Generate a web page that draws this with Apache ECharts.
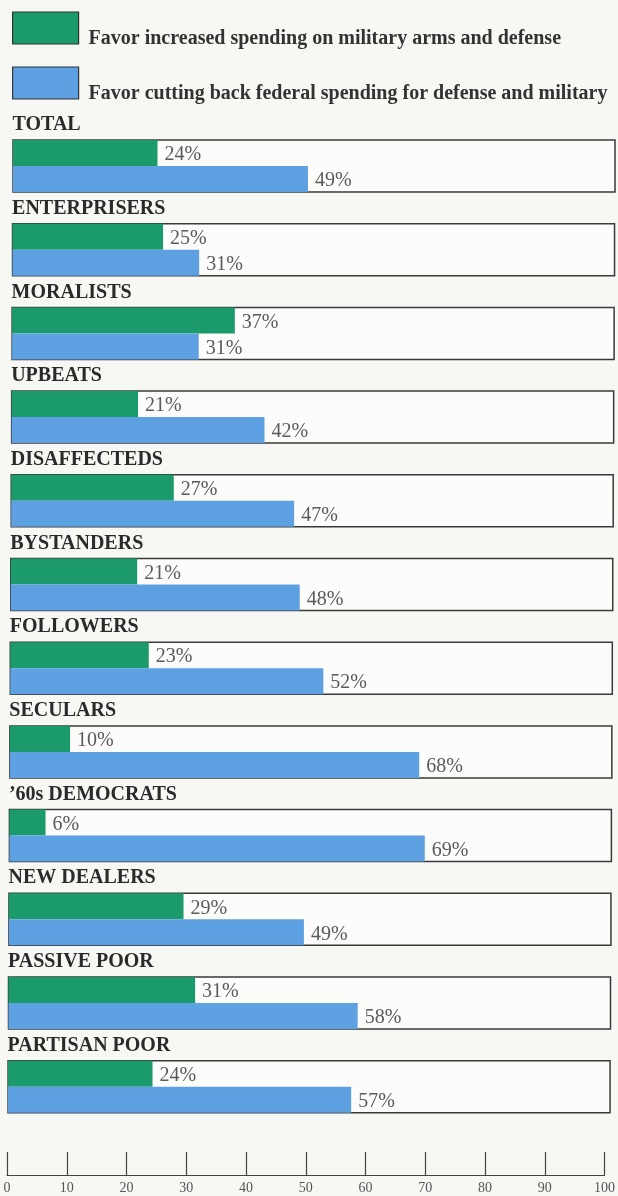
<!DOCTYPE html>
<html>
<head>
<meta charset="utf-8">
<script src="https://cdn.jsdelivr.net/npm/echarts@6/dist/echarts.min.js"></script>
<style>
  html, body { margin: 0; padding: 0; background: #f7f7f4; }
  #chart { width: 618px; height: 1196px; }
</style>
</head>
<body>
<div id="chart"></div>
<script>
// Survey groups, top to bottom
const groups = [
  'TOTAL', 'ENTERPRISERS', 'MORALISTS', 'UPBEATS', 'DISAFFECTEDS', 'BYSTANDERS',
  'FOLLOWERS', 'SECULARS', '\u201960s DEMOCRATS', 'NEW DEALERS', 'PASSIVE POOR', 'PARTISAN POOR'
];
// Percent favoring increased military spending
const increase = [24, 25, 37, 21, 27, 21, 23, 10, 6, 29, 31, 24];
// Percent favoring cutting back defense spending
const cutBack = [49, 31, 31, 42, 47, 48, 52, 68, 69, 49, 58, 57];
// Scale ticks
const scaleTicks = [0, 10, 20, 30, 40, 50, 60, 70, 80, 90, 100];

const nameIncrease = 'Favor increased spending on military arms and defense';
const nameCut = 'Favor cutting back federal spending for defense and military';
const GREEN = '#1b9a6c';
const BLUE = '#5ea1e2';
const SERIF = '"Liberation Serif", "DejaVu Serif", serif';

const chart = echarts.init(document.getElementById('chart'), null, { renderer: 'canvas' });

const firstTop = 140, step = 83.7, boxH = 52, boxW = 602;
const grids = [], xAxes = [], yAxes = [], series = [], titles = [];

groups.forEach((g, i) => {
  const top = firstTop + i * step;
  const left = 13 - i * 0.45;
  grids.push({
    left: left, top: top, width: boxW, height: boxH,
    show: true, borderColor: '#3a3a3a', borderWidth: 1.5, backgroundColor: '#fcfcfb'
  });
  xAxes.push({ gridIndex: i, type: 'value', min: 0, max: 100, show: false });
  yAxes.push({ gridIndex: i, type: 'category', data: ['inc', 'cut'], inverse: true, show: false });
  titles.push({
    text: g, left: left - 0.5, top: top - 25, padding: 0,
    textStyle: { fontFamily: SERIF, fontWeight: 'bold', fontSize: 20, color: '#2a2a2a' }
  });
  const label = {
    show: true, position: 'right', distance: 7, offset: [0, 2],
    formatter: '{c}%', fontFamily: SERIF, fontSize: 20, color: '#5a5a5a'
  };
  series.push({
    name: nameIncrease, type: 'bar', xAxisIndex: i, yAxisIndex: i,
    data: [increase[i], '-'], barCategoryGap: '0%', barGap: '-100%',
    itemStyle: { color: GREEN }, label: label, silent: true
  });
  series.push({
    name: nameCut, type: 'bar', xAxisIndex: i, yAxisIndex: i,
    data: ['-', cutBack[i]], barCategoryGap: '0%', barGap: '-100%',
    itemStyle: { color: BLUE }, label: label, silent: true
  });
});

// Bottom percentage scale
const ai = groups.length;
grids.push({ left: 7, top: 1150, width: 604, height: 25, show: false });
xAxes.push({
  gridIndex: ai, type: 'value', min: 0, max: 100, interval: 10, position: 'bottom',
  axisLine: { show: true, lineStyle: { color: '#444', width: 1.2 } },
  axisTick: { show: true, inside: true, length: 23, lineStyle: { color: '#444', width: 1.2 } },
  axisLabel: {
    show: true, margin: 6, fontFamily: SERIF, fontSize: 14, color: '#555',
    formatter: v => scaleTicks.includes(v) ? String(v) : ''
  },
  splitLine: { show: false }
});
yAxes.push({ gridIndex: ai, type: 'value', show: false });

chart.setOption({
  animation: false,
  backgroundColor: '#f7f7f4',
  title: titles,
  legend: {
    orient: 'vertical', left: 12, top: 7, padding: 0,
    itemWidth: 66, itemHeight: 32, itemGap: 13,
    icon: 'rect',
    selectedMode: false,
    data: [
      { name: nameIncrease, itemStyle: { color: GREEN, borderColor: '#333', borderWidth: 1.2 } },
      { name: nameCut, itemStyle: { color: BLUE, borderColor: '#333', borderWidth: 1.2 } }
    ],
    formatter: '{t|{name}}',
    textStyle: {
      fontFamily: SERIF, fontWeight: 'bold', fontSize: 20, color: '#333',
      rich: {
        t: {
          fontFamily: SERIF, fontWeight: 'bold', fontSize: 20, lineHeight: 20, color: '#333',
          padding: [22, 0, 0, 5]
        }
      }
    }
  },
  grid: grids,
  xAxis: xAxes,
  yAxis: yAxes,
  series: series
});
</script>
</body>
</html>
